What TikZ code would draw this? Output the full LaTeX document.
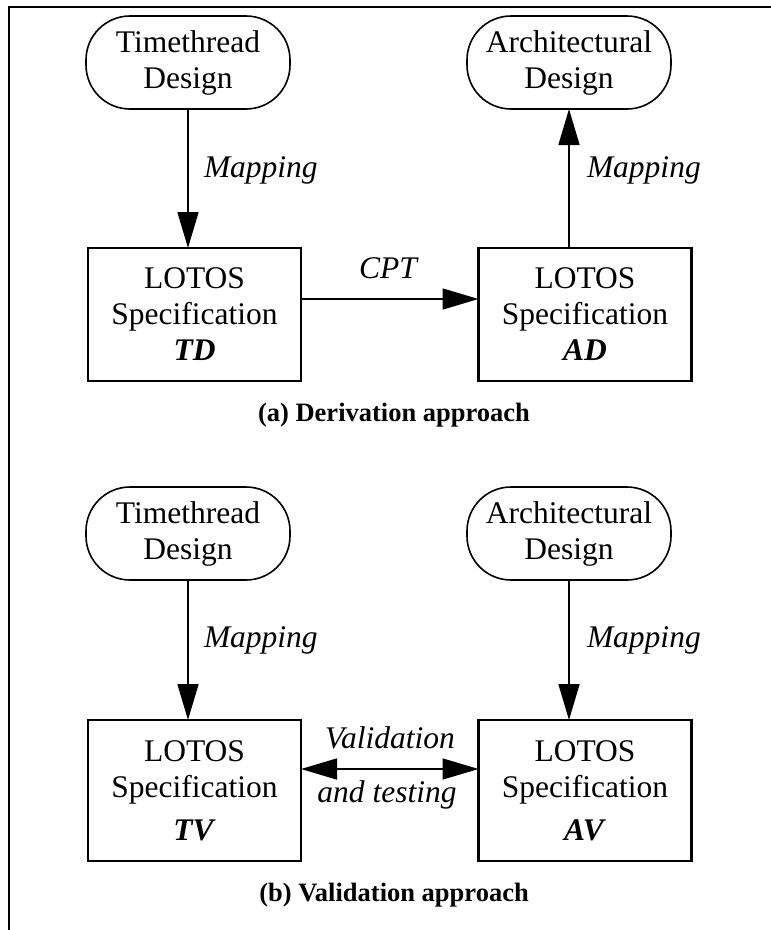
\documentclass[tikz,border=0pt]{standalone}
\usepackage{fontspec}
\setmainfont{Liberation Serif}
\usetikzlibrary{arrows.meta,calc}
\begin{document}
\begin{tikzpicture}[x=1pt,y=-1pt,
  every node/.style={inner sep=0pt,outer sep=0pt},
  bigfont/.style={font=\fontsize{31.5}{36}\selectfont},
  design/.style={draw,line width=1.6pt,rounded corners=44pt,minimum width=204pt,minimum height=93pt,align=center,bigfont},
  spec/.style={draw,line width=2.8pt,minimum width=213pt,align=center,bigfont},
  lbl/.style={font=\fontsize{31.5}{36}\selectfont\itshape},
  captext/.style={font=\fontsize{26.5}{30}\selectfont\bfseries},
  arr/.style={line width=1.6pt,-{Triangle[length=36pt,width=21pt]}},
  darr/.style={line width=1.6pt,{Triangle[length=36pt,width=21pt]}-{Triangle[length=36pt,width=21pt]}}
]
\useasboundingbox (0,0) rectangle (771,930);
\draw[line width=2pt] (8.5,930) -- (8.5,7) -- (771,7);

% (a)
\node[design] (tt1) at (188,62.5) {Timethread\\Design};
\node[design] (ar1) at (569,62.5) {Architectural\\Design};
\node[spec,minimum height=133pt] (b1) at (194.5,314.5) {LOTOS\\Specification\\\textbf{\textit{TD}}};
\node[spec,minimum height=133pt] (b2) at (585,314.5) {LOTOS\\Specification\\\textbf{\textit{AD}}};
\draw[arr] (tt1.south) -- (tt1.south |- b1.north);
\draw[arr] (ar1.south |- b2.north) -- (ar1.south);
\draw[arr] ([yshift=15.5pt]b1.east) -- ([yshift=15.5pt]b2.west);
\node[lbl,anchor=west] (m1) at (204,170) {Mapping};
\node[lbl,anchor=west] (m2) at (587,170) {Mapping};
\node[lbl] (cpt) at (388,268) {CPT};
\node[captext] (ca) at (394,415) {(a) Derivation approach};

% (b)
\node[design] (tt2) at (188,533.5) {Timethread\\Design};
\node[design] (ar2) at (569,533.5) {Architectural\\Design};
\node[spec,minimum height=141pt] (b3) at (194.5,790.5) {LOTOS\\Specification\\[7pt]\textbf{\textit{TV}}};
\node[spec,minimum height=141pt] (b4) at (585,790.5) {LOTOS\\Specification\\[7pt]\textbf{\textit{AV}}};
\draw[arr] (tt2.south) -- (tt2.south |- b3.north);
\draw[arr] (ar2.south) -- (ar2.south |- b4.north);
\draw[darr] ([yshift=21.5pt]b3.east) -- ([yshift=21.5pt]b4.west);
\node[lbl,anchor=west] (m3) at (204,640) {Mapping};
\node[lbl,anchor=west] (m4) at (587,640) {Mapping};
\node[lbl] (val) at (390,738) {Validation};
\node[lbl] (tst) at (387,795) {and testing};
\node[captext] (cb) at (394,895) {(b) Validation approach};
\end{tikzpicture}
\end{document}
